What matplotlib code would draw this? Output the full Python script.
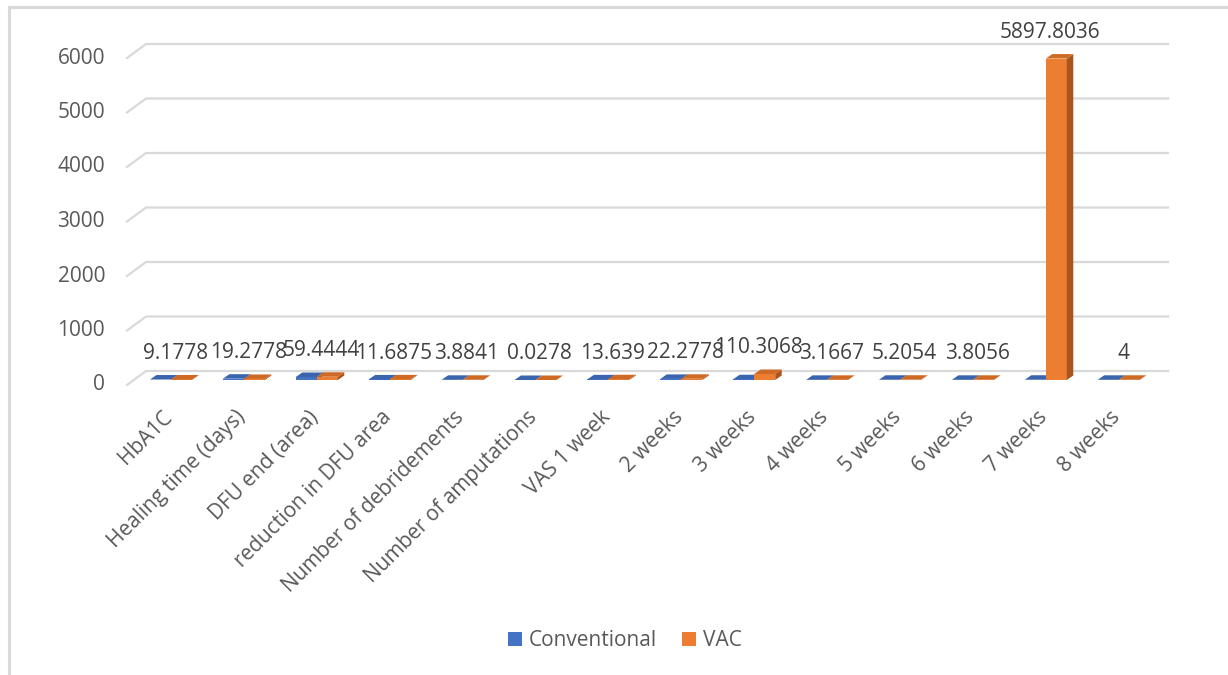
import matplotlib
matplotlib.use("Agg")
import matplotlib.pyplot as plt
from matplotlib.patches import Polygon, Rectangle

# ---------------- data ----------------
categories = ["HbA1C", "Healing time (days)", "DFU end (area)", "reduction in DFU area",
              "Number of debridements", "Number of amputations", "VAS 1 week", "2 weeks",
              "3 weeks", "4 weeks", "5 weeks", "6 weeks", "7 weeks", "8 weeks"]
conventional = [8.6, 24.0, 55.0, 10.5, 3.2, 0.1, 12.0, 20.0, 14.0, 3.0, 4.5, 3.2, 5.0, 3.5]
vac = [9.1778, 19.2778, 59.4444, 11.6875, 3.8841, 0.0278, 13.639, 22.2778,
       110.3068, 3.1667, 5.2054, 3.8056, 5897.8036, 4]
vac_labels = ["9.1778", "19.2778", "59.4444", "11.6875", "3.8841", "0.0278", "13.639",
              "22.2778", "110.3068", "3.1667", "5.2054", "3.8056", "5897.8036", "4"]
y_ticks = [0, 1000, 2000, 3000, 4000, 5000, 6000]
series_names = ["Conventional", "VAC"]

# ---------------- style ----------------
FONT = "Open Sans"
plt.rcParams["font.family"] = [FONT, "DejaVu Sans"]
W, H = 1228, 675
front_cols = ["#4472C4", "#ED7D31"]
top_cols = ["#3B64AE", "#CF6A25"]
side_cols = ["#2F5597", "#A9561E"]
grid_col = "#D9D9D9"
text_col = "#595959"
FS = 15

fig = plt.figure(figsize=(W / 100, H / 100), dpi=100)
fig.patch.set_facecolor("white")

# axes placement in pixels
ax_l, ax_r, ax_t, ax_b = 127, 1168, 40, 390
cat0_px = 171.0
px_cat = 72.9
px_unit = 0.0545
base_px = 380.0
ax = fig.add_axes([ax_l / W, 1 - ax_b / H, (ax_r - ax_l) / W, (ax_b - ax_t) / H])
ax.set_xlim((ax_l - cat0_px) / px_cat, (ax_r - cat0_px) / px_cat)
ax.set_ylim((base_px - ax_b) / px_unit, (base_px - ax_t) / px_unit)
ax.axis("off")

# 3D depth in data units
dxd = 6.5 / px_cat
dyd = 4.5 / px_unit
back_dy = (base_px - 371) / px_unit
front_dy = (base_px - 385) / px_unit
x_left = (ax_l - cat0_px) / px_cat
x_back = (146 - cat0_px) / px_cat
x_right = (ax_r - cat0_px) / px_cat

# gridlines (floor/back wall style)
for v in y_ticks:
    ax.plot([x_left, x_back, x_right], [v + front_dy, v + back_dy, v + back_dy],
            color=grid_col, lw=1.6, zorder=1, solid_joinstyle="miter", clip_on=False)
    ax.text((105 - cat0_px) / px_cat, v + front_dy, str(v), ha="right", va="center",
            fontsize=FS, color=text_col, clip_on=False)

# bars
bw = 21.0 / px_cat
for s, vals in enumerate([conventional, vac]):
    for i, v in enumerate(vals):
        left = i - bw if s == 0 else i
        ax.bar(left, v, width=bw, align="edge", color=front_cols[s], lw=0, zorder=3 + 2 * i + s)
        top = Polygon([(left, v), (left + dxd, v + dyd), (left + bw + dxd, v + dyd), (left + bw, v)],
                      closed=True, facecolor=top_cols[s], lw=0, zorder=3 + 2 * i + s)
        side = Polygon([(left + bw, 0), (left + bw + dxd, dyd), (left + bw + dxd, v + dyd), (left + bw, v)],
                       closed=True, facecolor=side_cols[s], lw=0, zorder=3 + 2 * i + s)
        ax.add_patch(side)
        ax.add_patch(top)

# data labels (VAC)
for i, (v, lab) in enumerate(zip(vac, vac_labels)):
    ax.text(i + 0.06, v + 26 / px_unit, lab, ha="center", va="center", fontsize=FS,
            color="#404040", zorder=50, clip_on=False)

# category labels
for i, c in enumerate(categories):
    ax.text(i - 0.02, (base_px - 414) / px_unit, c, rotation=45, rotation_mode="anchor",
            ha="right", va="center", fontsize=FS, color=text_col, clip_on=False)

# legend
handles = [Rectangle((0, 0), 1, 1, facecolor=front_cols[k], edgecolor="none") for k in range(2)]
fig.legend(handles, series_names, loc="center", bbox_to_anchor=(625 / W, 1 - 641 / H), ncol=2,
           frameon=False, fontsize=FS, handlelength=0.65, handleheight=0.65, handletextpad=0.35,
           columnspacing=1.2, labelcolor=text_col)

# chart-area border
fig.patches.append(Rectangle((8.5 / W, -0.05), 1.2, (1 - 7 / H) + 0.05, transform=fig.transFigure,
                             facecolor="none", edgecolor=grid_col, lw=2.2, zorder=0))

fig.savefig("out.png", dpi=100, facecolor="white")
